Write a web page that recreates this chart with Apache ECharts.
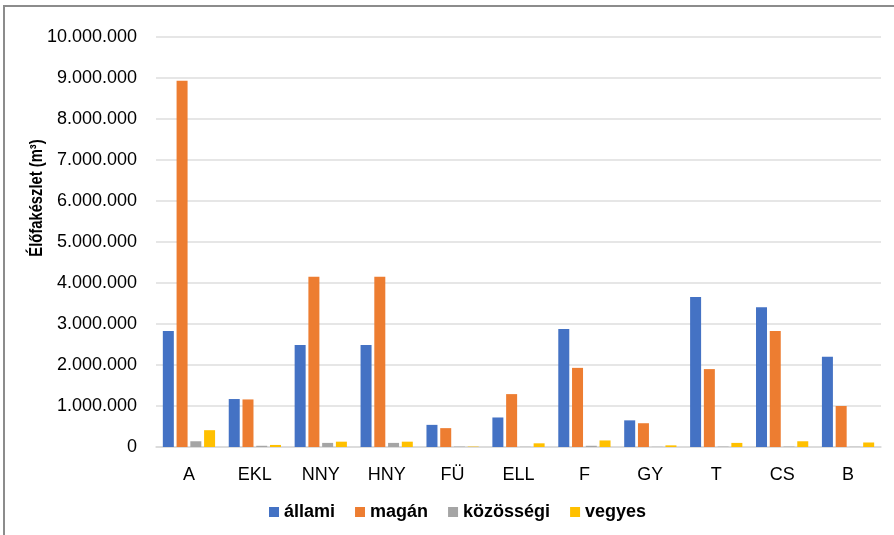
<!DOCTYPE html>
<html><head><meta charset="utf-8">
<script src="https://cdn.jsdelivr.net/npm/echarts@6/dist/echarts.min.js"></script>
<style>html,body{margin:0;padding:0;background:#fff}#c{width:894px;height:535px}</style>
</head><body><div id="c"></div>
<script>
const categories = ['A','EKL','NNY','HNY','FÜ','ELL','F','GY','T','CS','B'];
const allami     = [2830000,1170000,2490000,2490000,540000,720000,2880000,650000,3660000,3410000,2200000];
const magan      = [8930000,1160000,4150000,4150000,460000,1290000,1930000,580000,1900000,2830000,1000000];
const kozossegi  = [140000,30000,100000,100000,10000,5000,30000,5000,10000,10000,5000];
const vegyes     = [410000,50000,130000,130000,10000,90000,160000,40000,100000,140000,110000];
const seriesNames = ['állami','magán','közösségi','vegyes'];
const yTicks = [0,1000000,2000000,3000000,4000000,5000000,6000000,7000000,8000000,9000000,10000000];
const yTitle = 'Élőfakészlet (m³)';
const colors = ['#4472C4','#ED7D31','#A5A5A5','#FFC000'];
const font = 'Liberation Sans, Arial, sans-serif';
const chart = echarts.init(document.getElementById('c'));
const fmt = v => String(v).replace(/\B(?=(\d{3})+(?!\d))/g, '.');
const data = [allami, magan, kozossegi, vegyes];
chart.setOption({
  animation:false,
  color: colors,
  graphic:[
    {type:'rect',shape:{x:4,y:6,width:900,height:540},style:{fill:'none',stroke:'#8c8c8c',lineWidth:2},silent:true},
    {type:'text',x:37,y:198,rotation:Math.PI/2,scaleX:0.82,scaleY:1,style:{text:yTitle,font:'bold 18px Liberation Sans, Arial, sans-serif',fill:'#000',align:'center',verticalAlign:'middle'},silent:true}
  ],
  grid:{left:156,right:13,top:37,bottom:88},
  legend:{left:264,top:498,itemWidth:10,itemHeight:10,itemGap:20,icon:'rect',
    textStyle:{fontFamily:font,fontSize:18,fontWeight:'bold',color:'#000'},
    data:seriesNames},
  xAxis:{type:'category',data:categories,
    axisLine:{lineStyle:{color:'#d9d9d9',width:1.5}},axisTick:{show:false},
    axisLabel:{fontFamily:font,fontSize:18,color:'#000',margin:19}},
  yAxis:{type:'value',min:yTicks[0],max:yTicks[yTicks.length-1],interval:1000000,
    axisLine:{show:false},axisTick:{show:false},
    splitLine:{lineStyle:{color:'#dedede',width:1.5}},
    axisLabel:{fontFamily:font,fontSize:18,color:'#000',margin:19,formatter:fmt}},
  series: seriesNames.map((n,i)=>({name:n,type:'bar',data:data[i],barWidth:11,barGap:'25%'}))
});
</script></body></html>
